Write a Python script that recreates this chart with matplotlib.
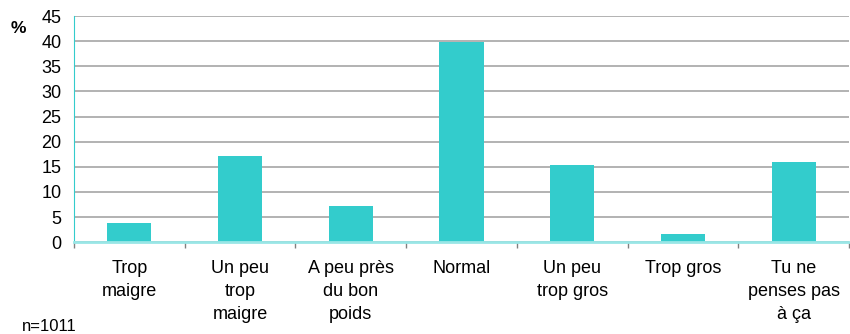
import matplotlib.pyplot as plt
import numpy as np

plt.rcParams['font.family'] = ['Liberation Sans', 'DejaVu Sans']

categories = ['Trop\nmaigre', 'Un peu\ntrop\nmaigre', 'A peu près\ndu bon\npoids',
              'Normal', 'Un peu\ntrop gros', 'Trop gros', 'Tu ne\npenses pas\nà ça']
percent = [3.8, 17.1, 7.2, 39.8, 15.3, 1.6, 15.9]
y_ticks = [0, 5, 10, 15, 20, 25, 30, 35, 40, 45]


def barplot(labels, values, out_path):
    fig = plt.figure(figsize=(8.5, 3.34), dpi=100)
    ax = fig.add_axes([0.087, 0.275, 0.912, 0.677])
    x = np.arange(len(labels))
    ax.bar(x, values, width=0.4, color='#33CCCC', zorder=3)
    ax.set_xlim(-0.5, len(labels) - 0.5)
    ax.set_ylim(0, 45)
    ax.set_yticks(y_ticks)
    ax.yaxis.grid(True, color='#A6A6A6', lw=1.2, zorder=0)
    ax.set_xticks(x)
    ax.set_xticklabels(labels, fontsize=13, linespacing=1.45,
                       verticalalignment='top')
    ax.set_xticks(np.arange(len(labels) + 1) - 0.5, minor=True)
    ax.tick_params(axis='x', which='major', length=0, pad=13)
    ax.tick_params(axis='x', which='minor', length=4, width=1,
                   color='#808080', direction='out')
    ax.tick_params(axis='y', length=0, labelsize=13, pad=9)
    for side in ['top', 'right']:
        ax.spines[side].set_visible(False)
    ax.spines['left'].set_color('#33CCCC')
    ax.spines['left'].set_linewidth(0.8)
    ax.spines['bottom'].set_color('#99E6E6')
    ax.spines['bottom'].set_linewidth(2)
    ax.spines['bottom'].set_zorder(4)
    fig.text(0.012, 0.9, '%', fontsize=12.5, fontweight='bold')
    fig.text(0.026, 0.009, 'n=1011', fontsize=12)
    plt.savefig(out_path)
    plt.close(fig)


barplot(categories, percent, 'out.png')
